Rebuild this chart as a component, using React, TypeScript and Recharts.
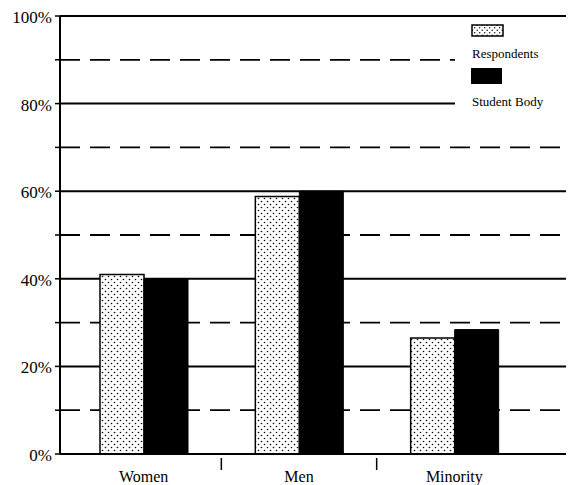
import { Bar, BarChart, CartesianGrid, XAxis, YAxis } from 'recharts'

const CATEGORIES = ['Women', 'Men', 'Minority']
const RESPONDENTS = [41, 58.8, 26.5]
const STUDENT_BODY = [40, 60, 28.4]
const Y_TICKS = [0, 10, 20, 30, 40, 50, 60, 70, 80, 90, 100]
const SOLID_LINES = [20, 40, 60, 80, 100]
const DASHED_LINES = [10, 30, 50, 70, 90]

const data = CATEGORIES.map((name, i) => ({
  name,
  respondents: RESPONDENTS[i],
  studentBody: STUDENT_BODY[i],
}))

const FONT = 'Liberation Serif, Times New Roman, Times, serif'
const INK = '#000'

function CategoryTick(props: any) {
  const { x, y, payload, index } = props
  const half = payload?.offset ?? 0
  return (
    <g>
      <text x={x} y={y + 20} textAnchor="middle" style={{ fontFamily: FONT, fontSize: 16 }} fill={INK}>
        {payload.value}
      </text>
      {index < CATEGORIES.length - 1 && (
        <line x1={x + half} x2={x + half} y1={y - 4} y2={y + 8} stroke={INK} strokeWidth={1.5} />
      )}
    </g>
  )
}

function PercentTick(props: any) {
  const { x, y, payload } = props
  if (payload.value % 20 !== 0) return <g />
  return (
    <text x={x - 1} y={y + 7} textAnchor="end" style={{ fontFamily: FONT, fontSize: 17 }} fill={INK}>
      {payload.value}%
    </text>
  )
}

function Legend() {
  return (
    <div
      style={{
        position: 'absolute',
        left: 447,
        top: 10,
        width: 119,
        height: 92,
        background: '#fff',
        fontFamily: FONT,
        fontSize: 13,
        color: INK,
      }}
    >
      <svg width={34} height={14} style={{ position: 'absolute', left: 16, top: 6 }}>
        <defs>
          <pattern id="dotsLegend" width={5} height={5} patternUnits="userSpaceOnUse">
            <rect width={5} height={5} fill="#fff" />
            <circle cx={1.2} cy={1.2} r={0.7} fill={INK} />
            <circle cx={3.7} cy={3.7} r={0.7} fill={INK} />
          </pattern>
        </defs>
        <rect x={1} y={1} width={31} height={11} fill="url(#dotsLegend)" stroke={INK} strokeWidth={1.5} />
      </svg>
      <div style={{ position: 'absolute', left: 17, top: 28, whiteSpace: 'nowrap' }}>Respondents</div>
      <div style={{ position: 'absolute', left: 16, top: 50, width: 31, height: 16, background: INK }} />
      <div style={{ position: 'absolute', left: 17, top: 76, whiteSpace: 'nowrap' }}>Student Body</div>
    </div>
  )
}

export default function App() {
  return (
    <div style={{ position: 'relative', width: 566, height: 477, background: '#fff' }}>
      <BarChart
        width={566}
        height={477}
        data={data}
        margin={{ top: 8, right: 0, left: 0, bottom: 1 }}
        barGap={0}
        barSize={44}
      >
        <defs>
          <pattern id="dots" width={6} height={6} patternUnits="userSpaceOnUse">
            <rect width={6} height={6} fill="#fff" />
            <circle cx={1.5} cy={1.5} r={0.8} fill={INK} />
            <circle cx={4.5} cy={4.5} r={0.8} fill={INK} />
          </pattern>
        </defs>
        <CartesianGrid vertical={false} horizontalValues={SOLID_LINES} stroke={INK} strokeWidth={2} />
        <CartesianGrid
          vertical={false}
          horizontalValues={DASHED_LINES}
          stroke={INK}
          strokeWidth={1.8}
          strokeDasharray="20 10"
        />
        <XAxis
          dataKey="name"
          padding={{ left: 6, right: 42 }}
          axisLine={{ stroke: INK, strokeWidth: 2 }}
          tickLine={false}
          tick={<CategoryTick />}
          height={30}
          interval={0}
        />
        <YAxis
          domain={[0, 100]}
          ticks={Y_TICKS}
          interval={0}
          width={52}
          axisLine={{ stroke: INK, strokeWidth: 2 }}
          tickLine={{ stroke: INK, strokeWidth: 1.5 }}
          tickSize={5}
          tick={<PercentTick />}
        />
        <Bar
          dataKey="respondents"
          name="Respondents"
          fill="url(#dots)"
          stroke={INK}
          strokeWidth={1.5}
          isAnimationActive={false}
        />
        <Bar
          dataKey="studentBody"
          name="Student Body"
          fill={INK}
          stroke={INK}
          strokeWidth={1}
          isAnimationActive={false}
        />
      </BarChart>
      <Legend />
    </div>
  )
}
